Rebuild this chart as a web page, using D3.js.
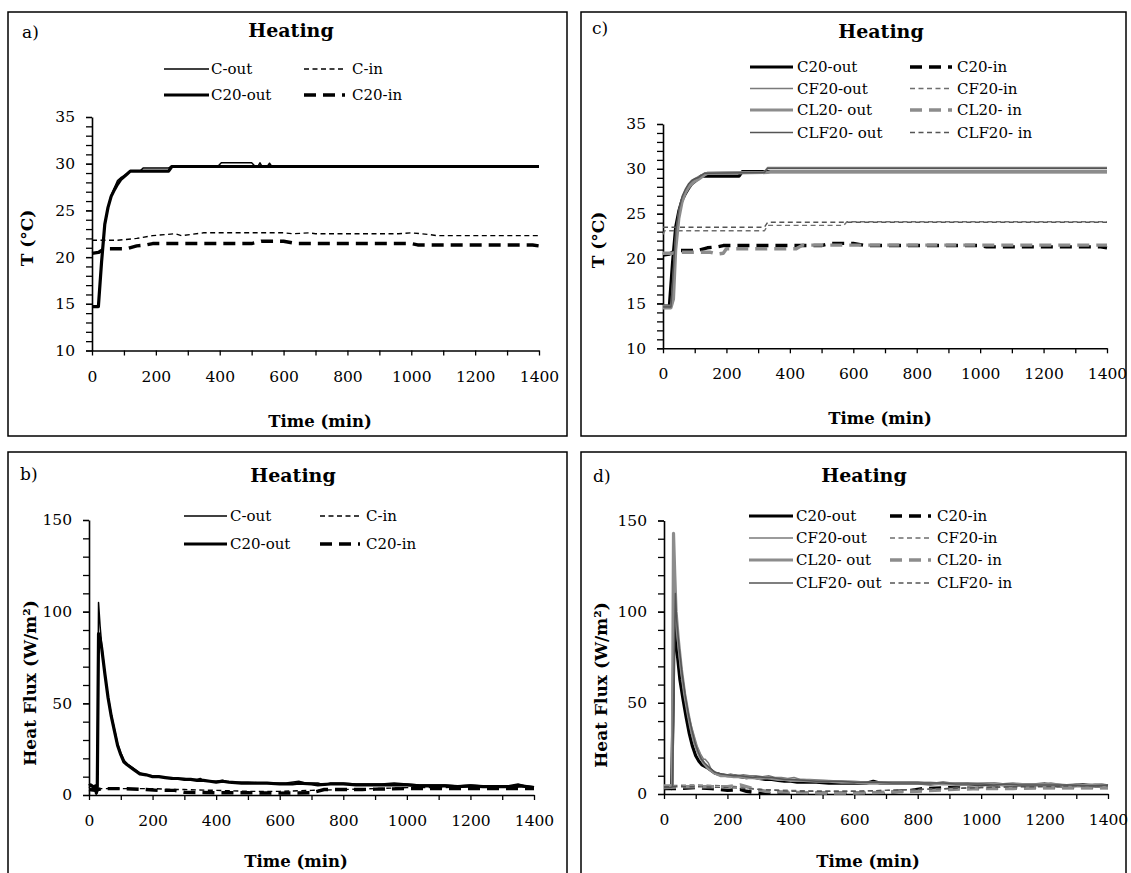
<!DOCTYPE html>
<html><head><meta charset="utf-8">
<script src="https://cdn.jsdelivr.net/npm/d3@7"></script>
<style>
body{margin:0;background:#fff}
svg text{font-family:"DejaVu Serif",serif;fill:#000}
</style>
</head><body><script>
// ---------- Temperature series (time in min, T in °C) ----------
const tC_out = [[0,14.7],[20,14.7],[30,19.5],[40,23.5],[50,25.3],[60,26.6],[70,27.4],[80,28.2],[90,28.5],[100,28.7],[110,28.9],[120,29.2],[150,29.2],[160,29.55],[240,29.55],[250,29.75],[395,29.75],[405,30.1],[500,30.1],[510,29.75],[520,29.75],[526,30.1],[532,29.75],[550,29.75],[556,30.05],[562,29.75],[1400,29.75]];
const tC_in = [[0,21.8],[80,21.8],[140,22.0],[190,22.3],[260,22.5],[280,22.3],[350,22.6],[500,22.6],[600,22.6],[630,22.5],[680,22.6],[700,22.5],[960,22.5],[1000,22.6],[1060,22.4],[1080,22.3],[1400,22.3]];
const tC20_out = [[0,14.7],[20,14.7],[30,19.5],[40,23.5],[50,25.3],[60,26.5],[70,27.2],[80,27.8],[90,28.3],[100,28.6],[110,28.9],[120,29.2],[240,29.2],[250,29.7],[1400,29.7]];
const tC20_in = [[0,20.4],[20,20.5],[30,20.7],[40,20.9],[110,20.9],[140,21.2],[170,21.3],[190,21.45],[500,21.45],[530,21.7],[600,21.7],[640,21.45],[1000,21.45],[1020,21.3],[1380,21.3],[1400,21.2]];
const tCF20_out = [[0,14.8],[25,14.8],[32,18],[40,22.5],[50,25.3],[60,26.8],[70,27.6],[80,28.2],[90,28.6],[100,28.9],[110,29.1],[130,29.5],[140,29.6],[320,29.7],[330,30.15],[1400,30.15]];
const tCF20_in = [[0,22.7],[5,23.1],[320,23.1],[330,23.7],[570,23.7],[580,24.1],[1400,24.1]];
const tCL20_out = [[0,14.5],[25,14.5],[33,15.5],[40,21],[50,24.5],[60,26.3],[70,27.3],[80,27.9],[90,28.3],[100,28.6],[110,28.8],[130,29.3],[140,29.5],[330,29.6],[340,29.7],[1400,29.7]];
const tCL20_in = [[0,20.6],[30,20.6],[40,20.7],[150,20.7],[170,20.5],[190,20.6],[200,21.1],[420,21.1],[440,21.5],[1400,21.5]];
const tCLF20_out = [[0,14.6],[25,14.6],[32,18.5],[40,23],[50,25.5],[60,26.9],[70,27.7],[80,28.3],[90,28.7],[100,28.9],[110,29.0],[130,29.5],[320,29.6],[330,30.05],[1400,30.05]];
const tCLF20_in = [[0,23.5],[320,23.5],[330,24.05],[1400,24.05]];

// ---------- Heat flux series (time in min, W/m²) ----------
const qC_out = [[0,4],[5,5],[10,4.5],[15,3],[20,4],[23,0.5],[26,3],[30,105],[35,92],[40,82],[50,66],[60,54],[70,44],[80,36],[90,28],[100,23],[110,19],[120,17],[140,14.5],[160,12],[180,11],[200,10.5],[220,10],[240,9.5],[260,9.5],[280,9],[300,9],[320,8.5],[340,8.5],[350,9],[360,8],[380,7.5],[400,7.5],[420,8],[440,7],[460,7],[500,7],[540,6.5],[580,6.5],[620,6.5],[660,7.5],[680,6.5],[720,6.5],[740,5.5],[760,6.5],[800,6.5],[840,6],[880,6],[920,6],[960,6.5],[1000,6],[1040,5.5],[1080,5.5],[1120,5.5],[1160,5],[1200,5.5],[1240,5],[1280,5],[1320,5],[1350,6],[1370,5],[1400,4.5]];
const qC_in = [[0,3.5],[20,3],[40,3.5],[100,3.5],[200,3.5],[260,3],[300,3],[400,2.5],[500,2],[600,2],[700,2.5],[800,3],[900,3.5],[1000,4],[1100,4],[1200,4.5],[1300,4.5],[1400,4.5]];
const qC20_out = [[0,5],[5,5.5],[10,5],[15,4],[20,5],[23,1],[26,3],[30,88],[35,85],[40,80],[50,66],[60,53],[70,43],[80,35],[90,27],[100,22],[110,18],[120,16.5],[140,14],[160,11.5],[180,11],[200,10],[220,10],[240,9.5],[260,9],[280,9],[300,8.5],[320,8.5],[340,8],[360,8],[380,7.5],[400,7],[420,7.5],[440,7],[480,6.5],[520,6.5],[560,6.5],[600,6],[640,6],[660,6.5],[700,6],[720,5.5],[760,6],[800,6],[840,5.5],[880,5.5],[920,5.5],[960,5.5],[1000,5.5],[1040,5],[1080,5],[1120,5],[1160,4.5],[1200,5],[1240,4.5],[1280,4.5],[1320,4.5],[1360,5],[1400,4]];
const qC20_in = [[0,3],[20,2.5],[40,3.5],[100,3.5],[180,3],[220,2.5],[270,2.5],[300,1.5],[400,1.2],[500,1.2],[600,1],[700,1.2],[740,3],[860,3],[900,3.2],[1000,3.5],[1100,3.5],[1200,3.5],[1300,3.5],[1400,3.5]];
const qdC20_out = [[0,4],[10,4],[20,4],[24,3],[28,40],[32,95],[36,88],[40,80],[50,63],[60,52],[70,42],[80,33],[90,26],[100,21],[110,18],[120,16],[140,14],[160,11.5],[180,10.5],[200,10],[220,10],[240,9.5],[260,9],[280,9.5],[300,8.5],[320,8],[340,8],[360,7.5],[380,7],[400,7],[420,6.5],[440,6.5],[480,6.5],[520,6],[560,6],[600,6],[640,6],[660,7],[680,6],[720,6],[760,6],[800,6],[840,5.5],[880,6],[920,5.5],[960,5.5],[1000,5],[1040,5.5],[1080,5],[1120,5],[1160,5],[1200,5.5],[1240,4.5],[1280,4.5],[1320,5],[1360,4.5],[1400,4.5]];
const qdC20_in = [[0,3],[40,3],[100,3.5],[150,3],[200,2],[240,2.5],[260,1.5],[300,0.5],[400,0.5],[500,0.5],[600,0.5],[700,0.5],[740,1.5],[780,2],[820,3],[900,3.5],[1000,3],[1100,3.5],[1200,3.5],[1300,3.5],[1400,3.5]];
const qCF20_out = [[0,4],[20,4],[26,4],[30,60],[34,105],[38,92],[45,80],[55,65],[65,54],[75,45],[85,38],[95,32],[105,26],[115,22],[125,19],[130,19],[140,17],[150,13],[170,11],[190,10],[210,11],[230,10],[250,10.5],[270,10],[290,10],[310,9.5],[330,10],[350,9],[370,9],[390,8.5],[410,9],[430,8],[460,8],[500,7.5],[540,7],[580,7],[620,6.5],[660,6.5],[700,6.5],[740,6],[780,6.5],[820,6],[860,6],[900,6],[940,6],[980,5.5],[1020,6],[1060,5.5],[1100,6],[1140,5.5],[1180,5.5],[1220,6],[1260,5],[1300,5.5],[1340,5],[1380,5.5],[1400,5]];
const qCF20_in = [[0,4.5],[100,5],[200,4.5],[260,3.5],[300,2.5],[400,2],[500,1.5],[600,1.5],[700,2],[800,2.5],[900,3],[1000,3.5],[1100,4],[1200,4.5],[1300,4.5],[1400,5]];
const qCL20_out = [[0,4.5],[20,4.5],[26,5],[30,143],[34,120],[38,100],[45,85],[55,68],[65,55],[75,45],[85,36],[95,29],[105,24],[115,20],[125,17],[140,14],[160,11.5],[180,10],[200,10],[220,9.5],[240,9.5],[260,9],[280,9],[300,8.5],[320,9],[340,8.5],[360,8],[380,8],[400,7.5],[440,7.5],[480,7],[520,7],[560,6.5],[600,6.5],[640,6],[680,6],[720,6],[760,6],[800,6],[840,6],[880,5.5],[920,5.5],[960,5.5],[1000,5.5],[1040,5.5],[1080,5],[1120,5],[1160,5],[1200,5],[1240,5],[1280,4.5],[1320,4.5],[1360,5],[1400,4.5]];
const qCL20_in = [[0,3.5],[50,4],[100,4],[200,4],[240,5],[280,3],[320,1.5],[400,1],[500,0.5],[600,0.5],[700,1],[800,1.5],[900,2.5],[1000,3],[1100,3],[1200,3.5],[1300,3.5],[1400,3.5]];
const qCLF20_out = [[0,3.5],[20,3.5],[27,4],[32,70],[36,110],[40,95],[48,80],[58,65],[68,53],[78,43],[88,35],[98,28],[108,23],[118,19],[128,17],[140,15],[160,12],[180,11],[200,10.5],[220,10],[240,10],[260,9.5],[280,9],[300,9.5],[320,9],[340,9],[360,8.5],[380,8],[400,8],[440,7.5],[480,7],[520,7],[560,7],[600,6.5],[640,6.5],[680,6.5],[720,6],[760,6],[800,6],[840,6],[880,6],[920,5.5],[960,5.5],[1000,5.5],[1040,5],[1080,5.5],[1120,5],[1160,5],[1200,5],[1240,5],[1280,5],[1320,4.5],[1360,4.5],[1400,5]];
const qCLF20_in = [[0,4],[100,4],[200,3.5],[300,2.5],[400,1.5],[500,1.5],[600,1.5],[700,2],[800,2.5],[900,3],[1000,3.5],[1100,4],[1200,4],[1300,4.5],[1400,4.5]];

// ---------- Axis ticks ----------
const timeTicks = [0,200,400,600,800,1000,1200,1400];
const timeMinor = [100,300,500,700,900,1100,1300];
const tempTicks = [10,15,20,25,30,35];
const fluxTicks = [0,50,100,150];

// ---------- Line styles ----------
const styles = {
  blackThin:   {color:"#000", w:1.5, dash:null},
  blackThick:  {color:"#000", w:3.2, dash:null},
  blackThinD:  {color:"#000", w:1.4, dash:"5,3.5"},
  blackThickD: {color:"#000", w:3.4, dash:"12,7"},
  cf:   {color:"#7a7a7a", w:1.5, dash:null},
  cfD:  {color:"#6e6e6e", w:1.4, dash:"5,3.5"},
  cl:   {color:"#8c8c8c", w:3.2, dash:null},
  clD:  {color:"#8c8c8c", w:3.4, dash:"12,7"},
  clf:  {color:"#555555", w:1.5, dash:null},
  clfD: {color:"#555555", w:1.4, dash:"5,3.5"}
};

const svg = d3.select("body").append("svg").attr("width",1131).attr("height",873);

function drawPanel(p){
  const g = svg.append("g");
  // frame
  g.append("rect").attr("x",p.box[0]).attr("y",p.box[1])
    .attr("width",p.box[2]-p.box[0]).attr("height",p.box[3]-p.box[1])
    .attr("fill","none").attr("stroke","#000").attr("stroke-width",1.5);
  // panel letter and title
  g.append("text").attr("x",p.letter[0]).attr("y",p.letter[1])
    .style("font-size","17px").text(p.letterText);
  g.append("text").attr("x",p.title[0]).attr("y",p.title[1]).attr("text-anchor","middle")
    .style("font-size","19px").style("font-weight","bold").text("Heating");

  const x = d3.scaleLinear().domain([0,1400]).range([p.x0,p.x1]);
  const y = d3.scaleLinear().domain(p.yDomain).range([p.yb,p.yt]);

  // y axis: minor ticks then major ticks with labels
  const yMinor = d3.range(p.yDomain[0], p.yDomain[1]+1e-9, p.yMinorStep);
  g.append("g").attr("transform",`translate(${p.x0},0)`)
    .call(d3.axisLeft(y).tickValues(yMinor).tickSize(6).tickSizeOuter(0).tickFormat(""))
    .call(a=>a.select(".domain").remove())
    .call(a=>a.selectAll("line").attr("stroke-width",1.3));
  g.append("g").attr("transform",`translate(${p.x0},0)`)
    .call(d3.axisLeft(y).tickValues(p.yTicks).tickSize(6).tickSizeOuter(0).tickPadding(11).tickFormat(d=>String(d)))
    .call(a=>a.select(".domain").attr("stroke-width",1.6))
    .call(a=>a.selectAll("line").attr("stroke-width",1.3))
    .call(a=>a.selectAll("text").style("font-size","15.5px").attr("font-family",null));
  // x axis
  g.append("g").attr("transform",`translate(0,${p.yb})`)
    .call(d3.axisBottom(x).tickValues(timeMinor).tickSize(5).tickSizeOuter(0).tickFormat(""))
    .call(a=>a.select(".domain").remove())
    .call(a=>a.selectAll("line").attr("stroke-width",1.3));
  g.append("g").attr("transform",`translate(0,${p.yb})`)
    .call(d3.axisBottom(x).tickValues(timeTicks).tickSize(5).tickSizeOuter(0).tickPadding(15).tickFormat(d=>String(d)))
    .call(a=>a.select(".domain").attr("stroke-width",1.6))
    .call(a=>a.selectAll("line").attr("stroke-width",1.3))
    .call(a=>a.selectAll("text").style("font-size","15.5px").attr("font-family",null));

  // axis titles
  g.append("text").attr("x",p.xTitle[0]).attr("y",p.xTitle[1]).attr("text-anchor","middle")
    .style("font-size","16.5px").style("font-weight","bold").text("Time (min)");
  g.append("text").attr("transform",`translate(${p.yTitle[0]},${p.yTitle[1]}) rotate(-90)`)
    .attr("text-anchor","middle").attr("dominant-baseline","central")
    .style("font-size","17px").style("font-weight","bold").text(p.yTitleText);

  // series
  const line = d3.line().x(d=>x(d[0])).y(d=>y(d[1]));
  p.series.forEach(s=>{
    const st = styles[s.style];
    g.append("path").datum(s.data).attr("d",line).attr("fill","none")
      .attr("stroke",st.color).attr("stroke-width",st.w)
      .attr("stroke-dasharray",st.dash).attr("stroke-linejoin","round");
  });

  // legend (two columns)
  p.series.forEach((s,i)=>{
    const st = styles[s.style];
    const col = i%2, row = Math.floor(i/2);
    const c = p.legendCols[col], ly = p.legendRows[row];
    g.append("line").attr("x1",c[0]).attr("x2",c[1]).attr("y1",ly).attr("y2",ly)
      .attr("stroke",st.color).attr("stroke-width",st.w).attr("stroke-dasharray",st.dash);
    g.append("text").attr("x",c[2]).attr("y",ly).attr("dy","0.36em")
      .style("font-size","15px").text(s.name);
  });
}

drawPanel({
  box:[8,12,567,436], letter:[22,38], letterText:"a)", title:[291,37],
  x0:92, x1:539, yt:117, yb:350.5, yDomain:[10,35], yTicks:tempTicks, yMinorStep:1,
  xTitle:[320,427], yTitle:[27,238], yTitleText:"T (°C)",
  legendRows:[69,95], legendCols:[[164,209,211],[304,345,352]],
  series:[
    {name:"C-out", data:tC_out, style:"blackThin"},
    {name:"C-in", data:tC_in, style:"blackThinD"},
    {name:"C20-out", data:tC20_out, style:"blackThick"},
    {name:"C20-in", data:tC20_in, style:"blackThickD"}
  ]
});

drawPanel({
  box:[8,452,567,890], letter:[20,480], letterText:"b)", title:[293,482],
  x0:89, x1:534, yt:520, yb:795, yDomain:[0,150], yTicks:fluxTicks, yMinorStep:10,
  xTitle:[296,867], yTitle:[30,683], yTitleText:"Heat Flux (W/m²)",
  legendRows:[516,544], legendCols:[[184,227,230],[320,360,366]],
  series:[
    {name:"C-out", data:qC_out, style:"blackThin"},
    {name:"C-in", data:qC_in, style:"blackThinD"},
    {name:"C20-out", data:qC20_out, style:"blackThick"},
    {name:"C20-in", data:qC20_in, style:"blackThickD"}
  ]
});

drawPanel({
  box:[581,12,1126,436], letter:[592,34], letterText:"c)", title:[881,38],
  x0:663, x1:1107, yt:124, yb:348.3, yDomain:[10,35], yTicks:tempTicks, yMinorStep:1,
  xTitle:[880,424], yTitle:[598,240], yTitleText:"T (°C)",
  legendRows:[67,88.5,110,132.5], legendCols:[[750,793,797],[910,952,957]],
  series:[
    {name:"C20-out", data:tC20_out, style:"blackThick"},
    {name:"C20-in", data:tC20_in, style:"blackThickD"},
    {name:"CF20-out", data:tCF20_out, style:"cf"},
    {name:"CF20-in", data:tCF20_in, style:"cfD"},
    {name:"CL20- out", data:tCL20_out, style:"cl"},
    {name:"CL20- in", data:tCL20_in, style:"clD"},
    {name:"CLF20- out", data:tCLF20_out, style:"clf"},
    {name:"CLF20- in", data:tCLF20_in, style:"clfD"}
  ]
});

drawPanel({
  box:[581,452,1126,890], letter:[593,482], letterText:"d)", title:[864,482],
  x0:664, x1:1108, yt:520.5, yb:794, yDomain:[0,150], yTicks:fluxTicks, yMinorStep:10,
  xTitle:[868,867], yTitle:[601,685], yTitleText:"Heat Flux (W/m²)",
  legendRows:[516,538,560,583], legendCols:[[749,793,796],[890,931,937]],
  series:[
    {name:"C20-out", data:qdC20_out, style:"blackThick"},
    {name:"C20-in", data:qdC20_in, style:"blackThickD"},
    {name:"CF20-out", data:qCF20_out, style:"cf"},
    {name:"CF20-in", data:qCF20_in, style:"cfD"},
    {name:"CL20- out", data:qCL20_out, style:"cl"},
    {name:"CL20- in", data:qCL20_in, style:"clD"},
    {name:"CLF20- out", data:qCLF20_out, style:"clf"},
    {name:"CLF20- in", data:qCLF20_in, style:"clfD"}
  ]
});
</script></body></html>
